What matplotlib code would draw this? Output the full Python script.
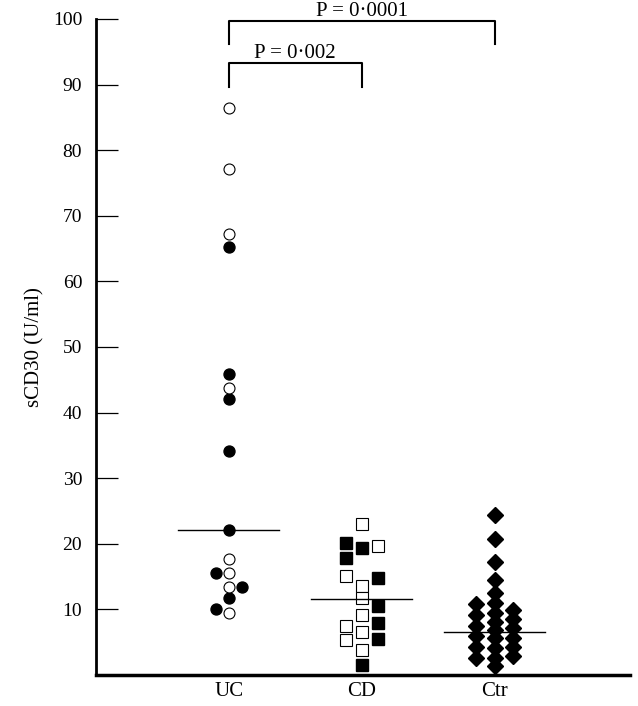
import numpy as np
from matplotlib import pyplot as plt

plt.rcParams['font.family'] = ['Liberation Serif', 'DejaVu Serif']

groups = ['UC', 'CD', 'Ctr']

# UC: open / filled circles (U/ml)
uc_open = [86.5, 77.2, 67.3, 43.7, 17.7, 15.6, 13.4, 9.4]
uc_open_col = [0, 0, 0, 0, 0, 0, 0, 0]
uc_filled = [65.3, 45.9, 42.1, 34.1, 22.1, 15.6, 13.4, 11.7, 10.0]
uc_filled_col = [0, 0, 0, 0, 0, -1, 1, 0, -1]

# CD: open / filled squares
cd_open = [23.0, 19.6, 15.1, 13.5, 11.7, 9.1, 7.5, 6.5, 5.3, 3.8]
cd_open_col = [0, 1, -1, 0, 0, 0, -1, 0, -1, 0]
cd_filled = [20.1, 19.3, 17.8, 14.8, 10.5, 7.9, 5.5, 1.5]
cd_filled_col = [-1, 0, -1, 1, 1, 1, 1, 0]

# Ctr: filled diamonds, three columns
ctr_left = [10.8, 9.2, 7.5, 5.9, 4.2, 2.6]
ctr_mid = [24.4, 20.7, 17.2, 14.5, 12.5, 11.0, 9.4, 8.1, 6.9, 5.6, 4.1, 2.6, 1.4]
ctr_right = [9.9, 8.5, 7.1, 5.7, 4.3, 2.9]

medians = [22.1, 11.6, 6.6]

fig = plt.figure(figsize=(6.38, 7.06), dpi=100)
ax = fig.add_axes([0.1505, 0.0439, 0.837, 0.9292])

def xs(pos, cols, step):
    return pos + step * np.array(cols)

ax.plot(xs(1, uc_filled_col, 0.1), uc_filled, 'o', ms=7.9, mfc='black', mec='black', ls='none', clip_on=False)
ax.plot(xs(1, uc_open_col, 0.1), uc_open, 'o', ms=7.9, mfc='white', mec='black', mew=0.8, ls='none', clip_on=False)

ax.plot(xs(2, cd_filled_col, 0.12), cd_filled, 's', ms=8.4, mfc='black', mec='black', ls='none', clip_on=False)
ax.plot(xs(2, cd_open_col, 0.12), cd_open, 's', ms=8.4, mfc='white', mec='black', mew=0.8, ls='none', clip_on=False)

for vals, c in [(ctr_left, -1), (ctr_right, 1), (ctr_mid, 0)]:
    ax.plot(xs(3, [c] * len(vals), 0.14), vals, 'D', ms=8.1, mfc='black', mec='black', ls='none', clip_on=False)

for i, m in enumerate(medians):
    ax.plot([i + 1 - 0.38, i + 1 + 0.38], [m, m], color='black', lw=1)

# significance brackets
ax.plot([1, 1, 3, 3], [96.2, 99.7, 99.7, 96.2], color='black', lw=1.5, clip_on=False)
ax.text(2, 99.75, 'P = 0\u00b70001', ha='center', va='bottom', fontsize=15)
ax.plot([1, 1, 2, 2], [89.6, 93.3, 93.3, 89.6], color='black', lw=1.5, clip_on=False)
ax.text(1.5, 93.35, 'P = 0\u00b7002', ha='center', va='bottom', fontsize=15)

ax.set_xlim(0, 4.02)
ax.set_ylim(0, 100)
ax.set_yticks(np.arange(10, 101, 10))
ax.set_xticks([1, 2, 3])
ax.set_xticklabels(groups)
ax.tick_params(axis='y', direction='in', length=16, width=0.9, pad=10, labelsize=14)
ax.tick_params(axis='x', length=0, pad=5, labelsize=15)
ax.spines['top'].set_visible(False)
ax.spines['right'].set_visible(False)
ax.spines['left'].set_linewidth(2)
ax.spines['bottom'].set_linewidth(2.5)
ax.set_ylabel('sCD30 (U/ml)', fontsize=15, labelpad=6)

fig.savefig('out.png', dpi=100)
